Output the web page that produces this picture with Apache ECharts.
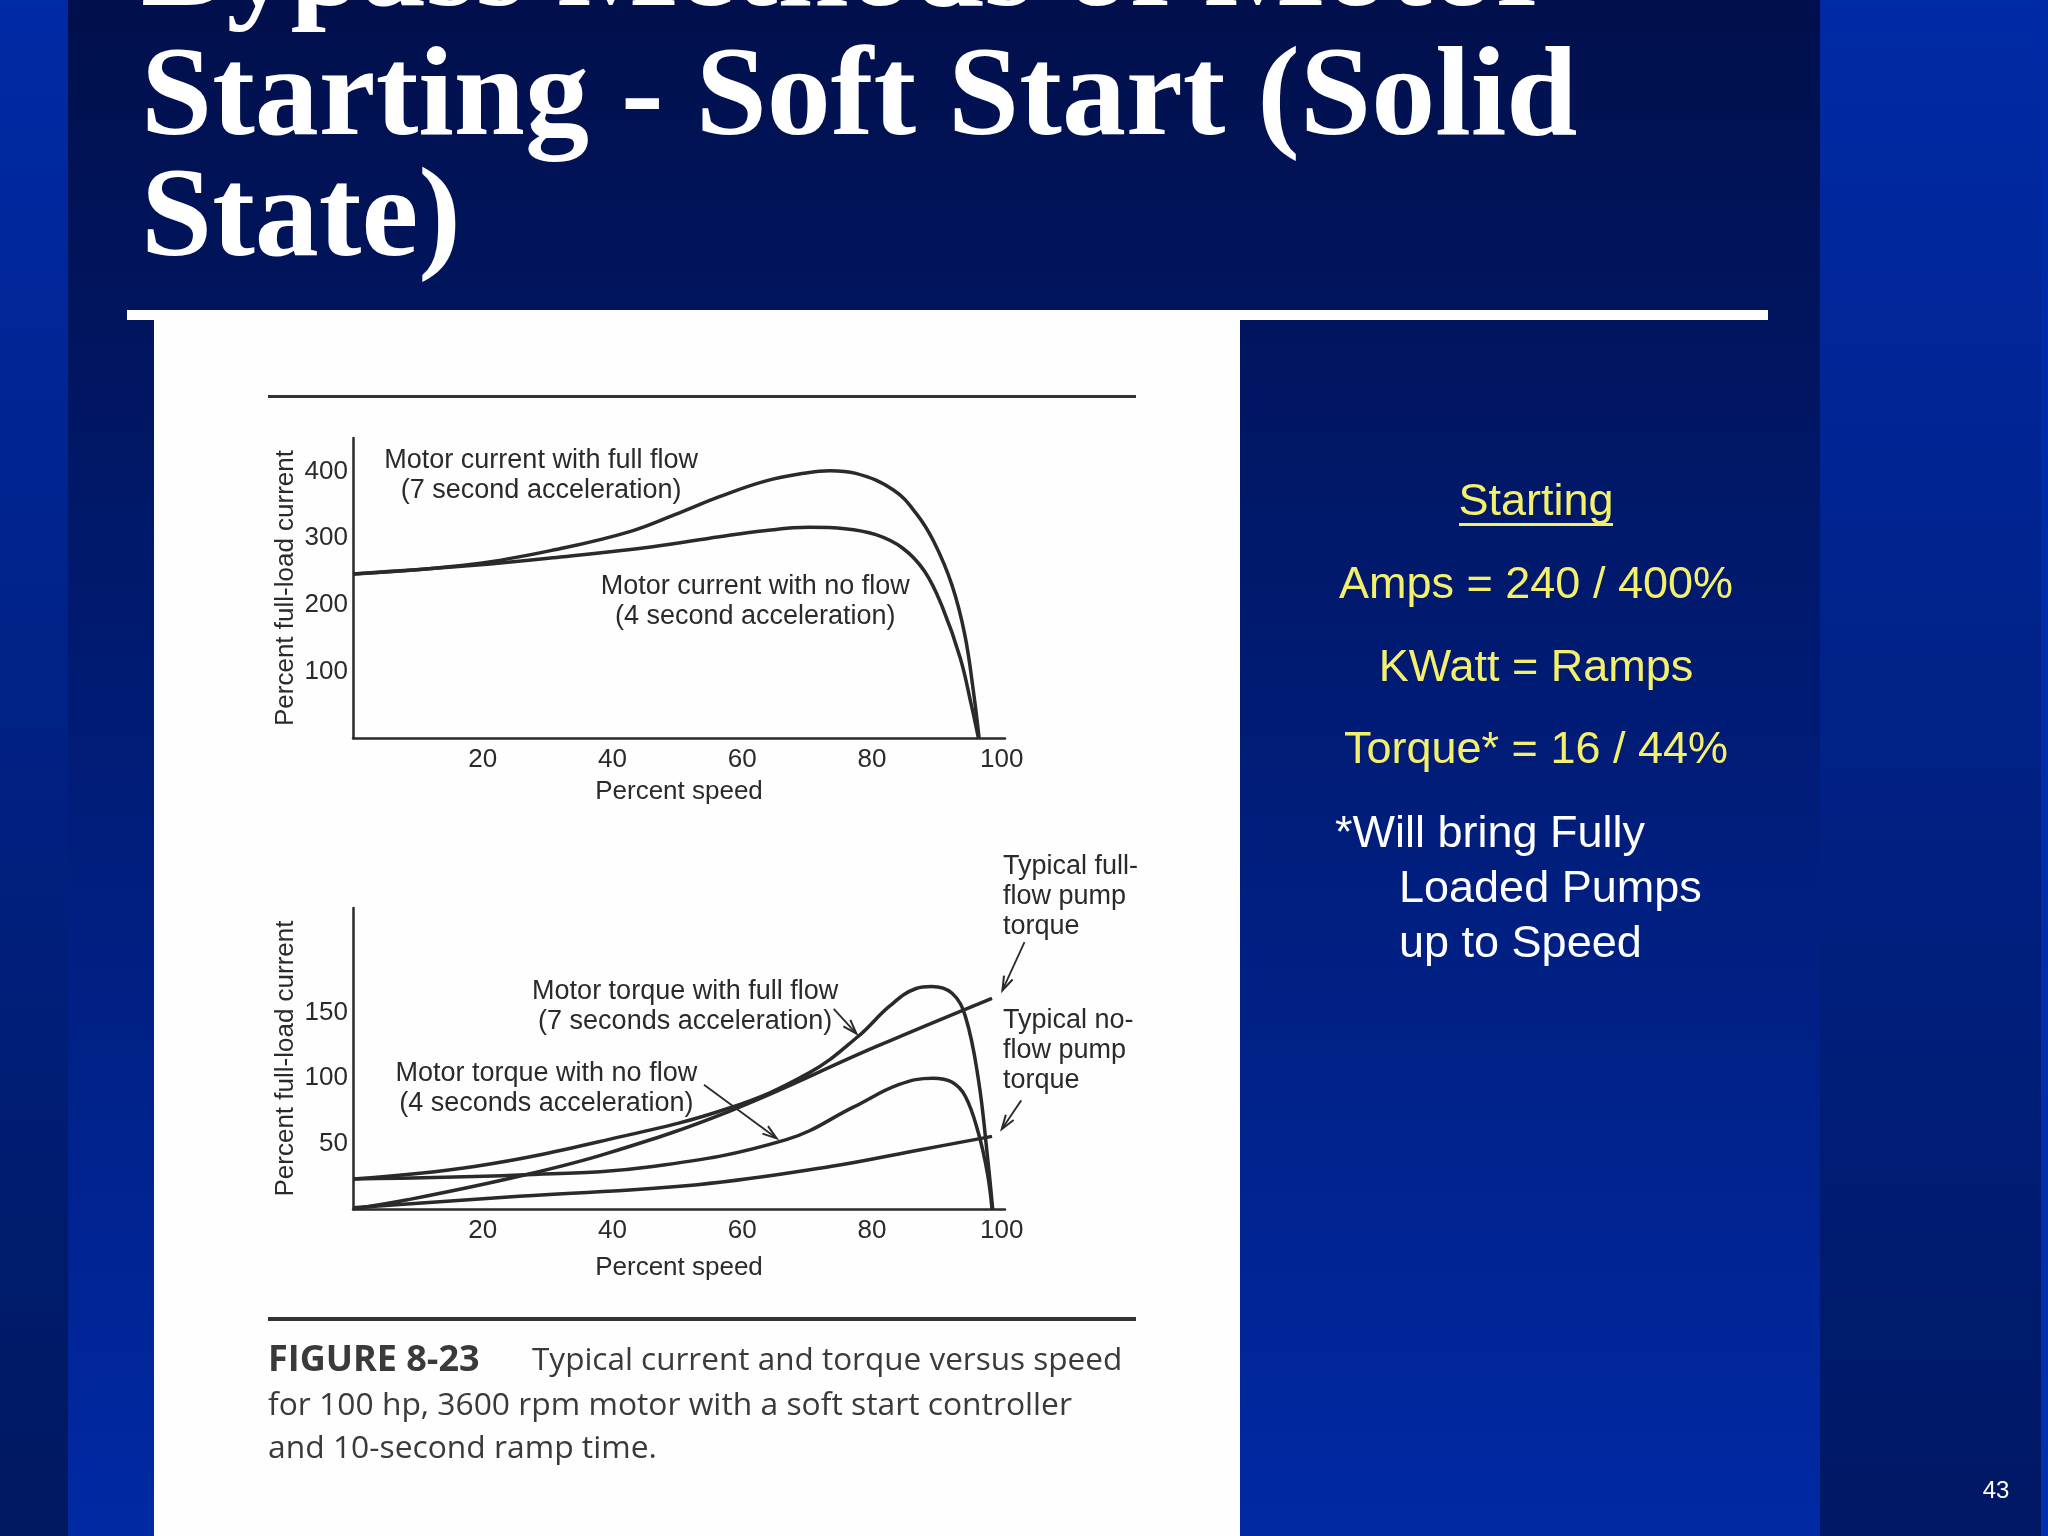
<!DOCTYPE html>
<html>
<head>
<meta charset="utf-8">
<script src="https://cdn.jsdelivr.net/npm/echarts@6/dist/echarts.min.js"></script>
<style>
html,body{margin:0;padding:0;background:#00134f;}
#c{width:2048px;height:1536px;}
</style>
</head>
<body>
<div id="c"></div>
<script>
// ---------- data ----------
const speedTicks = [20, 40, 60, 80, 100];
const currentTicks = [100, 200, 300, 400];
const torqueTicks = [50, 100, 150];

// Top chart: percent full-load current vs percent speed
const currentFullSpeed = [0, 18.7, 32.4, 42.8, 49.6, 56.5, 63.4, 69.5, 73.5, 77.5, 83.3, 86.8, 89.5, 92.3, 94.3, 95.7, 96.5];
const currentFullVals  = [246, 261, 285, 310, 335, 362, 385, 397, 401, 397, 372, 337, 295, 230, 155, 65, 0];
const currentNoSpeed   = [0, 18.7, 32.4, 46.2, 56.5, 63.4, 70.3, 75.8, 80.6, 84.7, 88.1, 90.9, 93.6, 95.3, 96.4];
const currentNoVals    = [246, 259, 272, 287, 302, 311, 316, 314, 305, 285, 250, 195, 120, 50, 0];

// Bottom chart: torque vs percent speed
const torqueFullSpeed = [0, 18.7, 39.3, 57.9, 70.3, 77.9, 82.7, 86.8, 89.2, 92.3, 94.4, 96.4, 97.8, 98.6];
const torqueFullVals  = [23, 32.5, 53, 77, 104, 132, 155, 168.5, 170, 165, 147, 99, 40, 0];
const torqueNoSpeed   = [0, 25.6, 46.2, 66.8, 77.2, 84.1, 89.4, 92.3, 94.4, 96.4, 97.8, 98.5];
const torqueNoVals    = [23, 26, 32.5, 53, 78, 95, 100, 97, 86, 58, 27, 0];
const pumpFullSpeed   = [0, 8.4, 25.6, 39.3, 57.9, 80.6, 98.5];
const pumpFullVals    = [0, 7, 25, 42.7, 74.5, 124, 161];
const pumpNoSpeed     = [0, 25.6, 53.1, 73.8, 87.5, 98.5];
const pumpNoVals      = [1, 9.7, 18.6, 32.6, 45.3, 55.5];

// text
const titleLines = ['Bypass Methods of Motor', 'Starting - Soft Start (Solid', 'State)'];
const sideYellow = ['Amps = 240 / 400%', 'KWatt = Ramps', 'Torque* = 16 / 44%'];
const sideWhite = ['*Will bring Fully', 'Loaded Pumps', 'up to Speed'];
const captionLines = ['for 100 hp, 3600 rpm motor with a soft start controller', 'and 10-second ramp time.'];

// ---------- chart ----------
const INK = '#2a2a2a';
const SANS = '"Liberation Sans", Arial, sans-serif';
const zip = (xs, ys) => xs.map((x, i) => [x, ys[i]]);

const chart = echarts.init(document.getElementById('c'), null, {renderer: 'canvas'});

const axisCommon = {
  axisLine: {show: true, lineStyle: {color: INK, width: 2.5}},
  axisTick: {show: false},
  splitLine: {show: false},
  nameTextStyle: {color: INK, fontSize: 26, fontFamily: SANS}
};

function lineSeries(xi, xs, ys) {
  return {
    type: 'line', xAxisIndex: xi, yAxisIndex: xi,
    data: zip(xs, ys), showSymbol: false, smooth: 0.4,
    lineStyle: {color: INK, width: 3.5}, silent: true, z: 3
  };
}

const option = {
  animation: false,
  backgroundColor: 'transparent',
  grid: [
    {left: 353, top: 438, width: 652, height: 300},
    {left: 353, top: 908, width: 652, height: 301}
  ],
  xAxis: [0, 1].map(i => Object.assign({}, axisCommon, {
    type: 'value', gridIndex: i, min: 0, max: 100.5, interval: 20,
    name: 'Percent speed', nameLocation: 'middle', nameGap: i === 0 ? 41 : 46,
    axisLabel: {color: INK, fontSize: 26, fontFamily: SANS, margin: 9,
      formatter: v => speedTicks.includes(v) ? String(v) : ''}
  })),
  yAxis: [
    Object.assign({}, axisCommon, {
      type: 'value', gridIndex: 0, min: 0, max: 450, interval: 100,
      name: 'Percent full-load current', nameLocation: 'middle', nameGap: 54,
      axisLabel: {color: INK, fontSize: 26, fontFamily: SANS, margin: 5,
        formatter: v => currentTicks.includes(v) ? String(v) : ''}
    }),
    Object.assign({}, axisCommon, {
      type: 'value', gridIndex: 1, min: 0, max: 230, interval: 50,
      name: 'Percent full-load current', nameLocation: 'middle', nameGap: 54,
      axisLabel: {color: INK, fontSize: 26, fontFamily: SANS, margin: 5,
        formatter: v => torqueTicks.includes(v) ? String(v) : ''}
    })
  ],
  series: [
    lineSeries(0, currentFullSpeed, currentFullVals),
    lineSeries(0, currentNoSpeed, currentNoVals),
    lineSeries(1, torqueFullSpeed, torqueFullVals),
    lineSeries(1, torqueNoSpeed, torqueNoVals),
    lineSeries(1, pumpFullSpeed, pumpFullVals),
    lineSeries(1, pumpNoSpeed, pumpNoVals)
  ]
};
chart.setOption(option);

// ---------- annotations placed through the axes ----------
const chartLabels = [
  {g: 0, x: 29, y: 394, align: 'center', text: 'Motor current with full flow\n(7 second acceleration)'},
  {g: 0, x: 62, y: 205, align: 'center', text: 'Motor current with no flow\n(4 second acceleration)'},
  {g: 1, x: 51.2, y: 155, align: 'center', text: 'Motor torque with full flow\n(7 seconds acceleration)'},
  {g: 1, x: 29.8, y: 92, align: 'center', text: 'Motor torque with no flow\n(4 seconds acceleration)'},
  {g: 1, x: 100.2, y: 239, align: 'left', text: 'Typical full-\nflow pump\ntorque'},
  {g: 1, x: 100.2, y: 121, align: 'left', text: 'Typical no-\nflow pump\ntorque'}
];
const arrows = [
  {g: 1, from: [74.1, 153], to: [77.6, 134]},
  {g: 1, from: [54.1, 95], to: [65.3, 54]},
  {g: 1, from: [103.5, 204], to: [100.1, 167]},
  {g: 1, from: [103, 83], to: [100, 61]}
];

const els = [];
// backgrounds
const grad = (c1, c2) => new echarts.graphic.LinearGradient(0, 0, 0, 1, [{offset: 0, color: c1}, {offset: 1, color: c2}]);
els.push({type: 'rect', z: -20, shape: {x: 0, y: 0, width: 68, height: 1536}, style: {fill: grad('#002aa6', '#001860')}});
els.push({type: 'rect', z: -20, shape: {x: 68, y: 0, width: 1752, height: 1536}, style: {fill: grad('#01104c', '#0029a4')}});
els.push({type: 'rect', z: -20, shape: {x: 1820, y: 0, width: 221, height: 1536}, style: {fill: grad('#002aa6', '#001864')}});
els.push({type: 'rect', z: -20, shape: {x: 2041, y: 0, width: 7, height: 1536}, style: {fill: grad('#002aa6', '#0030b0')}});
els.push({type: 'rect', z: -15, shape: {x: 127, y: 310, width: 1641, height: 10}, style: {fill: '#ffffff'}});
els.push({type: 'rect', z: -15, shape: {x: 154, y: 320, width: 1086, height: 1216}, style: {fill: '#fefefe'}});
els.push({type: 'rect', z: -14, shape: {x: 268, y: 395, width: 868, height: 3}, style: {fill: '#333333'}});
els.push({type: 'rect', z: -14, shape: {x: 268, y: 1317, width: 868, height: 4}, style: {fill: '#333333'}});

// title
const titleY = [-28, 101, 222];
titleLines.forEach((t, i) => els.push({type: 'text', z: 5, x: 141, y: titleY[i],
  style: {text: t, fill: '#ffffff', fontSize: 128, fontWeight: 'bold', fontFamily: '"Liberation Serif", "Times New Roman", serif', textVerticalAlign: 'middle'}}));

// right side text
els.push({type: 'text', z: 5, x: 1536, y: 503, style: {text: 'Starting', fill: '#f4f06c', fontSize: 45, fontFamily: SANS, textAlign: 'center', textVerticalAlign: 'middle'}});
els.push({type: 'rect', z: 5, shape: {x: 1459, y: 523, width: 154, height: 3}, style: {fill: '#f4f06c'}});
const yellowY = [586, 669, 751];
sideYellow.forEach((t, i) => els.push({type: 'text', z: 5, x: 1536, y: yellowY[i],
  style: {text: t, fill: '#f4f06c', fontSize: 45, fontFamily: SANS, textAlign: 'center', textVerticalAlign: 'middle'}}));
const whiteX = [1335, 1399, 1399], whiteY = [835, 890, 945];
sideWhite.forEach((t, i) => els.push({type: 'text', z: 5, x: whiteX[i], y: whiteY[i],
  style: {text: t, fill: '#ffffff', fontSize: 45, fontFamily: SANS, textVerticalAlign: 'middle'}}));
els.push({type: 'text', z: 5, x: 1996, y: 1491, style: {text: '43', fill: '#ffffff', fontSize: 24, fontFamily: SANS, textAlign: 'center', textVerticalAlign: 'middle'}});

// caption
const CAP = '"Open Sans", "Liberation Sans", sans-serif';
els.push({type: 'text', z: 5, x: 268, y: 1361, style: {text: 'FIGURE 8-23', fill: '#3a3a3a', fontSize: 36, fontWeight: 'bold', fontFamily: CAP, textVerticalAlign: 'middle'}});
els.push({type: 'text', z: 5, x: 532, y: 1361, style: {text: 'Typical current and torque versus speed', fill: '#3a3a3a', fontSize: 31.5, fontFamily: CAP, textVerticalAlign: 'middle'}});
captionLines.forEach((t, i) => els.push({type: 'text', z: 5, x: 268, y: 1406 + i * 43,
  style: {text: t, fill: '#3a3a3a', fontSize: 31.8, fontFamily: CAP, textVerticalAlign: 'middle'}}));

// chart labels
chartLabels.forEach(l => {
  const p = chart.convertToPixel({gridIndex: l.g}, [l.x, l.y]);
  els.push({type: 'text', z: 6, x: p[0], y: p[1], style: {text: l.text, fill: INK, fontSize: 27, fontFamily: SANS,
    lineHeight: 30, textAlign: l.align, textVerticalAlign: 'middle'}});
});
// arrows
arrows.forEach(a => {
  const p1 = chart.convertToPixel({gridIndex: a.g}, a.from);
  const p2 = chart.convertToPixel({gridIndex: a.g}, a.to);
  const ang = Math.atan2(p2[1] - p1[1], p2[0] - p1[0]);
  const L = 15, W = 0.32;
  const h1 = [p2[0] - L * Math.cos(ang - W), p2[1] - L * Math.sin(ang - W)];
  const h2 = [p2[0] - L * Math.cos(ang + W), p2[1] - L * Math.sin(ang + W)];
  els.push({type: 'line', z: 6, shape: {x1: p1[0], y1: p1[1], x2: p2[0], y2: p2[1]}, style: {stroke: INK, lineWidth: 1.8}});
  els.push({type: 'polyline', z: 6, shape: {points: [h1, p2, h2]}, style: {stroke: INK, lineWidth: 2, fill: null}});
});

chart.setOption({graphic: {elements: els}});
</script>
</body>
</html>
